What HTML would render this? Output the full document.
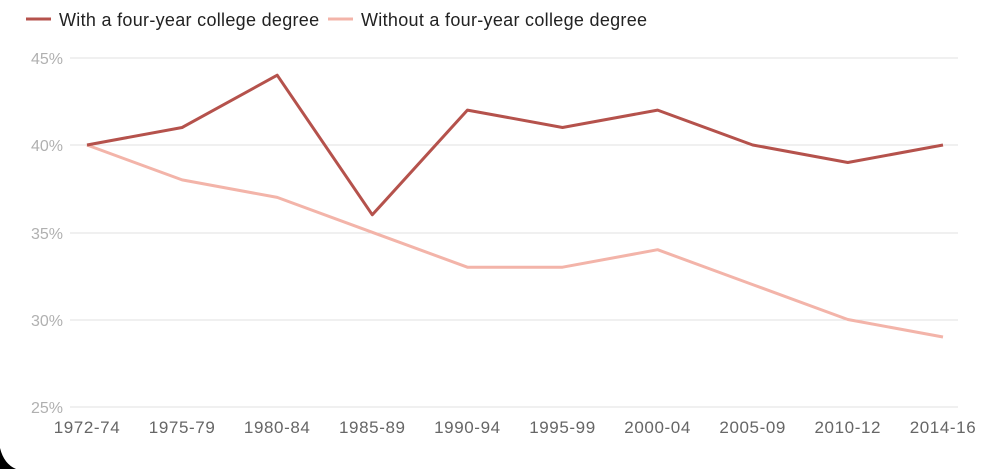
<!DOCTYPE html>
<html><head><meta charset="utf-8"><style>
html,body{margin:0;padding:0;background:#fff;width:1000px;height:469px;overflow:hidden}
text{font-family:"Liberation Sans",sans-serif}
</style></head><body>
<svg width="1000" height="469" xmlns="http://www.w3.org/2000/svg">
<rect width="1000" height="469" fill="#fff"/>
<g stroke="#e2e2e2" stroke-width="1">
<line x1="70" x2="958" y1="58" y2="58"/>
<line x1="70" x2="958" y1="145" y2="145"/>
<line x1="70" x2="958" y1="233" y2="233"/>
<line x1="70" x2="958" y1="320" y2="320"/>
<line x1="70" x2="958" y1="407" y2="407"/>
</g>
<g fill="#b0b0b0" font-size="16" text-anchor="end">
<text x="63" y="64">45%</text>
<text x="63" y="151">40%</text>
<text x="63" y="239">35%</text>
<text x="63" y="326">30%</text>
<text x="63" y="413">25%</text>
</g>
<g fill="#666" font-size="17" text-anchor="middle" letter-spacing="0.6">
<text x="87" y="433">1972-74</text>
<text x="182.1" y="433">1975-79</text>
<text x="277.2" y="433">1980-84</text>
<text x="372.3" y="433">1985-89</text>
<text x="467.4" y="433">1990-94</text>
<text x="562.5" y="433">1995-99</text>
<text x="657.6" y="433">2000-04</text>
<text x="752.7" y="433">2005-09</text>
<text x="847.8" y="433">2010-12</text>
<text x="943" y="433">2014-16</text>
</g>
<polyline fill="none" stroke="#f3b4a9" stroke-width="3" stroke-linejoin="round" points="87,145 182.1,179.9 277.2,197.4 372.3,232.3 467.4,267.2 562.5,267.2 657.6,249.7 752.7,284.6 847.8,319.5 943,337"/>
<polyline fill="none" stroke="#b5524c" stroke-width="3" stroke-linejoin="round" points="87,145 182.1,127.5 277.2,75.2 372.3,214.8 467.4,110.1 562.5,127.5 657.6,110.1 752.7,145 847.8,162.5 943,145"/>
<line x1="26" x2="51" y1="19" y2="19" stroke="#b5524c" stroke-width="3"/>
<text x="59" y="26" font-size="18" fill="#222" letter-spacing="0.3">With a four-year college degree</text>
<line x1="328" x2="353" y1="19" y2="19" stroke="#f3b4a9" stroke-width="3"/>
<text x="361" y="26" font-size="18" fill="#222" letter-spacing="0.3">Without a four-year college degree</text>
<path d="M0,448 Q4,464 16,469 L0,469 Z" fill="#000"/>
</svg>
</body></html>
